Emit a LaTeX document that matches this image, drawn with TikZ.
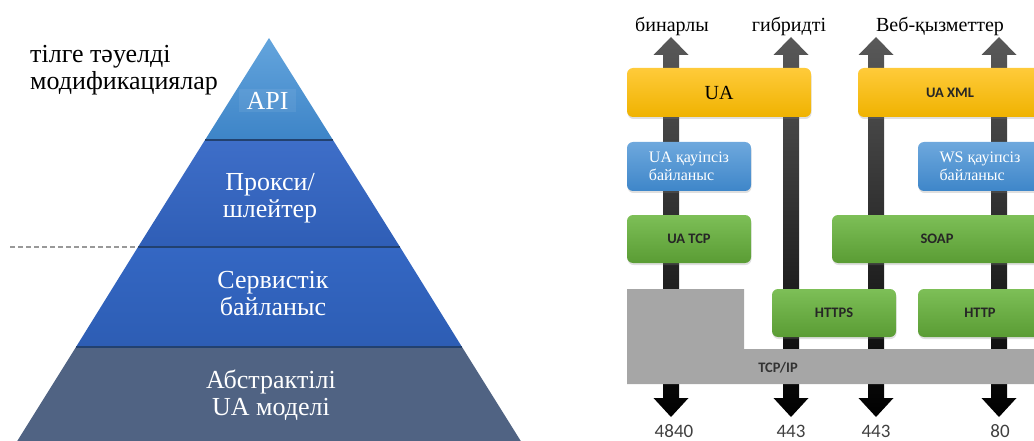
\documentclass[tikz,border=0pt]{standalone}
\usepackage{fontspec}
\setmainfont{Liberation Serif}
\newfontfamily\calib{Carlito}
\usetikzlibrary{shadows}
\definecolor{apitop}{HTML}{64A5DD}
\definecolor{apibot}{HTML}{3D84C7}
\definecolor{proxtop}{HTML}{3E6EC8}
\definecolor{proxbot}{HTML}{2F5EB6}
\definecolor{servtop}{HTML}{3467C3}
\definecolor{servbot}{HTML}{2D5DB4}
\definecolor{abstr}{HTML}{506383}
\definecolor{seam}{HTML}{22416F}
\definecolor{uatop}{HTML}{FFCB3A}
\definecolor{uabot}{HTML}{EFB200}
\definecolor{sectop}{HTML}{6EA8DD}
\definecolor{secbot}{HTML}{3E86C9}
\definecolor{prtop}{HTML}{7DBF57}
\definecolor{prbot}{HTML}{5A9C34}
\definecolor{tcpgray}{HTML}{A6A6A6}
\newcommand{\portarrow}[1]{%
  \shade[flowbar] (#1,37) -- ++(17.5,18) -- ++(-9.5,0) -- ++(0,343)
    -- ++(9.5,0) -- ++(-17.5,19) -- ++(-17.5,-19) -- ++(9.5,0)
    -- ++(0,-343) -- ++(-9.5,0) -- cycle;}

\begin{document}
\begin{tikzpicture}[x=1pt,y=-1pt,
    layertext/.style={text=white,align=center,font=\fontsize{26}{27}\selectfont},
    roundbox/.style={rounded corners=6pt,inner sep=0pt,
      drop shadow={opacity=0.25,shadow xshift=0.5pt,shadow yshift=-2pt}},
    uabox/.style={roundbox,top color=uatop,bottom color=uabot,
      minimum width=184pt,minimum height=49pt},
    secbox/.style={roundbox,top color=sectop,bottom color=secbot,text=white,
      align=left,minimum width=124pt,minimum height=49pt,
      font=\fontsize{16}{18}\selectfont},
    protofont/.style={font=\calib\bfseries\fontsize{14.5}{16}\selectfont,text=black!85},
    protobox/.style={roundbox,top color=prtop,bottom color=prbot,protofont,
      minimum width=124pt,minimum height=48pt},
    flowbar/.style={top color=black!65,middle color=black,bottom color=black},
    toplabel/.style={anchor=base,font=\fontsize{20}{22}\selectfont},
    portnum/.style={anchor=base,inner sep=0pt,font=\calib\fontsize{19}{21}\selectfont,text=black!75},
    seamline/.style={seam,line width=2.5pt}]
  \useasboundingbox (0,0) rectangle (1034,441);
  \clip (0,0) rectangle (1034,441);

  % pyramid
  \shade[top color=apitop,bottom color=apibot]   (269,38) -- (333,140) -- (205,140) -- cycle;
  \shade[top color=proxtop,bottom color=proxbot] (205,140) -- (333,140) -- (400,247) -- (138,247) -- cycle;
  \shade[top color=servtop,bottom color=servbot] (138,247) -- (400,247) -- (462,347) -- (76,347) -- cycle;
  \fill[abstr] (76,347) -- (462,347) -- (527,451) -- (11,451) -- cycle;

  \draw[seamline] (205,140) -- (333,140);
  \draw[seamline] (138,247) -- (400,247);
  \draw[seamline] (76,347) -- (462,347);
  \draw[gray!80,line width=2.5pt,dash pattern=on 5pt off 3pt] (10,247) -- (136,247);

  \node[layertext,fill=white,fill opacity=0.07,text opacity=1,inner sep=0pt,
    minimum width=57pt,minimum height=23pt] (api) at (267.5,100.5) {API};
  \node[layertext] (proxy) at (270,198.5) {Прокси/\\шлейтер};
  \node[layertext] (serv)  at (273,293.5) {Сервистік\\байланыс};
  \node[layertext] (model) at (271,395)   {Абстрактілі\\UA моделі};

  \node[align=left,anchor=west,inner sep=0pt,font=\fontsize{26}{27}\selectfont]
    (lang) at (30,70) {тілге тәуелді\\модификациялар};

  % stacks
  \portarrow{671}
  \portarrow{791}
  \portarrow{876}
  \portarrow{999}

  \fill[tcpgray] (627,289) -- (744,289) -- (744,349) -- (1042,349) -- (1042,384) -- (627,384) -- cycle;
  \node[protofont,text=black!80] (tcpip) at (778,368) {TCP/IP};

  \node[uabox,font=\fontsize{20}{22}\selectfont] (ua) at (719,92.5) {UA};
  \node[uabox,protofont] (uaxml) at (950,92.5) {UA XML};
  \node[secbox] (uasec) at (689,166.5) {UA қауіпсіз\\байланыс};
  \node[secbox] (wssec) at (980,166.5) {WS қауіпсіз\\байланыс};
  \node[protobox] (uatcp) at (689,239) {UA TCP};
  \node[protobox,minimum width=210pt] (soap) at (937,239) {SOAP};
  \node[protobox] (https) at (834,313) {HTTPS};
  \node[protobox] (http)  at (980,313) {HTTP};

  \node[toplabel] (bin) at (672,32) {бинарлы};
  \node[toplabel] (hyb) at (789,32) {гибридті};
  \node[toplabel] (web) at (940,32) {Веб-қызметтер};

  \node[portnum] (p4840) at (674,437)  {4840};
  \node[portnum] (p443a) at (791,437)  {443};
  \node[portnum] (p443b) at (876,437)  {443};
  \node[portnum] (p80)   at (1000,437) {80};
\end{tikzpicture}
\end{document}
